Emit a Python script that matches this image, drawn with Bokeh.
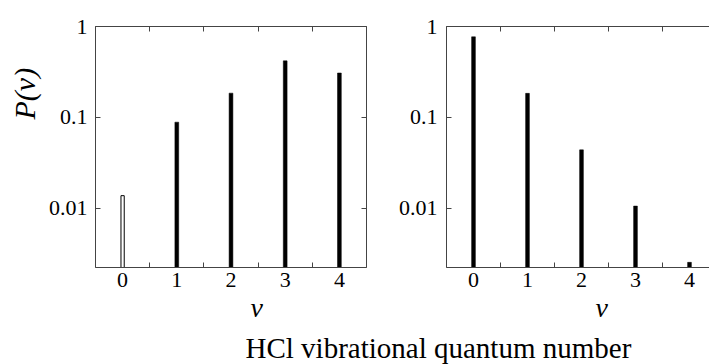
from bokeh.plotting import figure
from bokeh.layouts import row, column
from bokeh.models import (ColumnDataSource, FixedTicker, LinearAxis, LogAxis,
                          Label, Title, CustomJSTickFormatter, Range1d)
from bokeh.embed import file_html
from bokeh.resources import INLINE

# ---- data ----
v_levels = [0, 1, 2, 3, 4]
p_left = [0.0138, 0.0887, 0.185, 0.419, 0.308]   # left panel P(v)
p_right = [0.77, 0.184, 0.044, 0.0106, 0.00255]  # right panel P(v)
y_ticks = [0.01, 0.1, 1]
x_ticks = [0, 1, 2, 3, 4]
x_minor = [-0.5, 0.5, 1.5, 2.5, 3.5, 4.5]
caption = "HCl  vibrational quantum number"
x_label = "v"
y_label = "P(v)"

FONT = "Liberation Serif"
LINE = "#444444"
TICK_FS = "22px"
ROW_H = 331
TOP = 26
BOTTOM = 64
Y_START = 10 ** -2.65


def style_axis(ax, labels=True, standoff=3):
    ax.axis_line_color = LINE
    ax.axis_line_width = 1
    ax.major_tick_in = 5
    ax.major_tick_out = 0
    ax.minor_tick_in = 5
    ax.minor_tick_out = 0
    ax.major_tick_line_color = LINE
    ax.minor_tick_line_color = LINE
    ax.major_label_text_font = FONT
    ax.major_label_text_font_size = TICK_FS
    ax.major_label_text_color = "black"
    ax.major_label_standoff = standoff
    if not labels:
        ax.major_label_text_font_size = "0px"
        ax.major_label_text_color = None


def make_panel(vals, width, left, right, x_end, hollow_first, right_axis,
               y_standoff):
    p = figure(width=width, height=ROW_H, y_axis_type="log", title=None,
               x_range=Range1d(-0.5, x_end), y_range=Range1d(Y_START, 1),
               output_backend="svg", toolbar_location=None,
               min_border_top=TOP, min_border_bottom=BOTTOM,
               min_border_left=left, min_border_right=right)
    p.outline_line_color = None
    p.grid.visible = False
    p.background_fill_color = "white"
    p.border_fill_color = "white"

    xa = p.xaxis[0]
    xa.ticker = FixedTicker(ticks=x_ticks, minor_ticks=x_minor)
    style_axis(xa, standoff=5)
    xa.major_tick_line_color = None

    ya = p.yaxis[0]
    ya.ticker = FixedTicker(ticks=y_ticks, minor_ticks=[])
    ya.formatter = CustomJSTickFormatter(code="return tick.toString()")
    style_axis(ya, standoff=y_standoff)

    ta = LinearAxis(ticker=FixedTicker(ticks=x_ticks, minor_ticks=x_minor))
    style_axis(ta, labels=False)
    ta.major_tick_line_color = None
    p.add_layout(ta, "above")

    if right_axis:
        ra = LogAxis(ticker=FixedTicker(ticks=y_ticks, minor_ticks=[]))
        style_axis(ra, labels=False)
        p.add_layout(ra, "right")

    floor = [1e-5] * len(vals)
    if hollow_first:
        src_h = ColumnDataSource(dict(x=v_levels[:1], top=vals[:1], bottom=floor[:1]))
        src_f = ColumnDataSource(dict(x=v_levels[1:], top=vals[1:], bottom=floor[1:]))
        p.vbar(x="x", top="top", bottom="bottom", width=0.06, source=src_h,
               fill_color="white", line_color="black", line_width=1)
    else:
        src_f = ColumnDataSource(dict(x=v_levels, top=vals, bottom=floor))
    p.vbar(x="x", top="top", bottom="bottom", width=0.07, source=src_f,
           fill_color="black", line_color="black", line_width=0.5)
    return p


p1 = make_panel(p_left, width=390, left=95, right=24, x_end=4.5,
                hollow_first=True, right_axis=True, y_standoff=8)
p2 = make_panel(p_right, width=319, left=56, right=0, x_end=-0.5 + 263 / 54,
                hollow_first=False, right_axis=False, y_standoff=9)

# axis labels as side titles
t1 = Title(text=x_label, text_font=FONT, text_font_style="italic",
           text_font_size="28px", text_color="black", align="left",
           offset=155, standoff=0)
p1.add_layout(t1, "below")
t2 = Title(text=x_label, text_font=FONT, text_font_style="italic",
           text_font_size="28px", text_color="black", align="left",
           offset=149, standoff=0)
p2.add_layout(t2, "below")
ty = Title(text=y_label, text_font=FONT, text_font_style="italic",
           text_font_size="30px", text_color="black", align="left",
           offset=148, standoff=10)
p1.add_layout(ty, "left")

p3 = figure(width=709, height=364 - ROW_H, x_range=Range1d(0, 709),
            y_range=Range1d(0, 364 - ROW_H), title=None,
            output_backend="svg", toolbar_location=None,
            x_axis_location=None, y_axis_location=None, min_border=0)
p3.outline_line_color = None
p3.grid.visible = False
p3.add_layout(Label(x=245, y=16.5, text=caption, text_font=FONT,
                    text_font_size="29px", text_color="black",
                    text_align="left", text_baseline="middle"))

layout = column(row(p1, p2), p3)
open("out.html", "w").write(file_html(layout, INLINE))
